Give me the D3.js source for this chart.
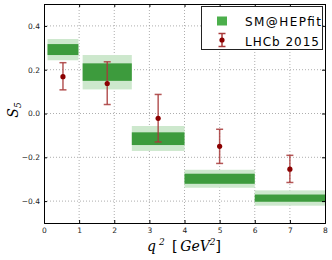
<!DOCTYPE html>
<html>
<head>
<meta charset="utf-8">
<script src="https://cdn.jsdelivr.net/npm/d3@7"></script>
<style>
  body { margin: 0; background: #fff; }
  svg { display: block; }
</style>
</head>
<body>
<svg id="chart" width="332" height="260"></svg>
<script>
// SM@HEPfit bins: [lo, hi], central, 1 sigma band, 2 sigma band
const binLo = [0.1, 1.1, 2.5, 4, 6]
const binHi = [0.98, 2.5, 4, 6, 8]
const smDarkTop = [0.317, 0.229, -0.086, -0.275, -0.370]
const smDarkBot = [0.267, 0.149, -0.144, -0.321, -0.403]
const smLightTop = [0.340, 0.267, -0.057, -0.257, -0.351]
const smLightBot = [0.243, 0.110, -0.171, -0.339, -0.421]

// LHCb 2015 points
const lhcbX = [0.54, 1.8, 3.25, 5, 7]
const lhcbY = [0.168, 0.137, -0.022, -0.150, -0.254]
const lhcbUp = [0.232, 0.236, 0.087, -0.072, -0.191]
const lhcbDn = [0.108, 0.041, -0.130, -0.228, -0.315]

const xTicks = [0, 1, 2, 3, 4, 5, 6, 7, 8]
const yTicks = [-0.4, -0.2, 0.0, 0.2, 0.4]

const svg = d3.select('#chart')
const margin = { top: 4, right: 7, bottom: 37, left: 44 }
const width = 332, height = 260
const innerW = width - margin.left - margin.right
const innerH = height - margin.top - margin.bottom

const x = d3.scaleLinear().domain([0, 8]).range([0, innerW])
const y = d3.scaleLinear().domain([-0.5, 0.5]).range([innerH, 0])

const g = svg.append('g').attr('transform', `translate(${margin.left},${margin.top})`)

// grid
g.append('g').selectAll('line')
  .data(xTicks.slice(1, -1))
  .enter().append('line')
  .attr('x1', d => x(d)).attr('x2', d => x(d))
  .attr('y1', 0).attr('y2', innerH)
  .attr('stroke', '#999').attr('stroke-width', 0.8).attr('stroke-dasharray', '1,2')

g.append('g').selectAll('line')
  .data(yTicks)
  .enter().append('line')
  .attr('x1', 0).attr('x2', innerW)
  .attr('y1', d => y(d)).attr('y2', d => y(d))
  .attr('stroke', '#999').attr('stroke-width', 0.8).attr('stroke-dasharray', '1,2')

const bins = binLo.map((lo, i) => ({
  lo, hi: binHi[i],
  dt: smDarkTop[i], db: smDarkBot[i], lt: smLightTop[i], lb: smLightBot[i]
}))

// light band
g.append('g').selectAll('rect')
  .data(bins)
  .enter().append('rect')
  .attr('x', d => x(d.lo))
  .attr('width', d => x(d.hi) - x(d.lo))
  .attr('y', d => y(d.lt))
  .attr('height', d => y(d.lb) - y(d.lt))
  .attr('fill', '#cde8cd')

// dark band
g.append('g').selectAll('rect')
  .data(bins)
  .enter().append('rect')
  .attr('x', d => x(d.lo))
  .attr('width', d => x(d.hi) - x(d.lo))
  .attr('y', d => y(d.dt))
  .attr('height', d => y(d.db) - y(d.dt))
  .attr('fill', '#3d9b3d')

// LHCb error bars
const pts = lhcbX.map((v, i) => ({ x: v, y: lhcbY[i], up: lhcbUp[i], dn: lhcbDn[i] }))
const eb = g.append('g').attr('stroke', '#a83a3a').attr('stroke-opacity', 0.85).attr('stroke-width', 1.5)
eb.selectAll('.v').data(pts).enter().append('line')
  .attr('x1', d => x(d.x)).attr('x2', d => x(d.x))
  .attr('y1', d => y(d.up)).attr('y2', d => y(d.dn))
eb.selectAll('.cu').data(pts).enter().append('line')
  .attr('x1', d => x(d.x) - 3.5).attr('x2', d => x(d.x) + 3.5)
  .attr('y1', d => y(d.up)).attr('y2', d => y(d.up))
eb.selectAll('.cd').data(pts).enter().append('line')
  .attr('x1', d => x(d.x) - 3.5).attr('x2', d => x(d.x) + 3.5)
  .attr('y1', d => y(d.dn)).attr('y2', d => y(d.dn))
g.append('g').selectAll('circle').data(pts).enter().append('circle')
  .attr('cx', d => x(d.x)).attr('cy', d => y(d.y)).attr('r', 2.6)
  .attr('fill', '#8b0000')

// axes
const xAxis = g.append('g').attr('transform', `translate(0,${innerH})`)
  .call(d3.axisBottom(x).tickValues(xTicks).tickSize(-3).tickPadding(5).tickFormat(d3.format('d')))
const yAxis = g.append('g')
  .call(d3.axisLeft(y).tickValues(yTicks).tickSize(-3).tickPadding(4).tickFormat(d => d3.format('.1f')(d).replace('-', '\u2212')))
g.append('g').attr('transform', `translate(${innerW},0)`)
  .call(d3.axisRight(y).tickValues(yTicks).tickSize(-3).tickFormat(''))
g.append('g')
  .call(d3.axisTop(x).tickValues(xTicks).tickSize(-3).tickFormat(''))

svg.selectAll('.domain').attr('stroke', '#000').attr('stroke-width', 1)
svg.selectAll('.tick line').attr('stroke', '#000')
svg.selectAll('.tick text').attr('font-family', 'DejaVu Sans').attr('font-size', 7.5).attr('fill', '#222')

// legend
const lg = svg.append('g')
lg.append('rect').attr('x', 201.5).attr('y', 6.5).attr('width', 121).attr('height', 43)
  .attr('fill', '#fff').attr('stroke', '#222').attr('stroke-width', 1)
lg.append('rect').attr('x', 217).attr('y', 16.5).attr('width', 10).attr('height', 9).attr('fill', '#4caf4c')
lg.append('text').attr('x', 245).attr('y', 26).attr('font-family', 'DejaVu Sans').attr('font-size', 12)
  .attr('textLength', 76).text('SM@HEPfit')
lg.append('line').attr('x1', 222).attr('x2', 222).attr('y1', 33.5).attr('y2', 46.5)
  .attr('stroke', '#a83a3a').attr('stroke-width', 1.5)
lg.append('line').attr('x1', 218.5).attr('x2', 225.5).attr('y1', 33.5).attr('y2', 33.5)
  .attr('stroke', '#a83a3a').attr('stroke-width', 1.5)
lg.append('line').attr('x1', 218.5).attr('x2', 225.5).attr('y1', 46.5).attr('y2', 46.5)
  .attr('stroke', '#a83a3a').attr('stroke-width', 1.5)
lg.append('circle').attr('cx', 222).attr('cy', 40).attr('r', 2.6).attr('fill', '#8b0000')
lg.append('text').attr('x', 245).attr('y', 45.5).attr('font-family', 'DejaVu Sans').attr('font-size', 12)
  .attr('textLength', 74).text('LHCb 2015')

// axis labels
const yl = svg.append('text')
  .attr('transform', 'translate(18,110) rotate(-90)')
  .attr('text-anchor', 'middle')
  .attr('font-family', 'DejaVu Serif').attr('font-style', 'italic').attr('font-size', 14)
yl.append('tspan').text('S')
yl.append('tspan').attr('font-size', 9).attr('dy', 3).text('5')

const xl = svg.append('text')
  .attr('x', 184).attr('y', 251)
  .attr('text-anchor', 'middle')
  .attr('font-family', 'DejaVu Serif').attr('font-style', 'italic').attr('font-size', 14)
xl.append('tspan').text('q')
xl.append('tspan').attr('font-size', 9).attr('dy', -6).attr('dx', 3).text('2')
xl.append('tspan').attr('dy', 6).attr('font-style', 'normal').text('\u2009 [\u2009')
xl.append('tspan').text('GeV')
xl.append('tspan').attr('font-size', 9).attr('dy', -6).text('2')
xl.append('tspan').attr('dy', 6).attr('font-style', 'normal').text(']')
</script>
</body>
</html>
